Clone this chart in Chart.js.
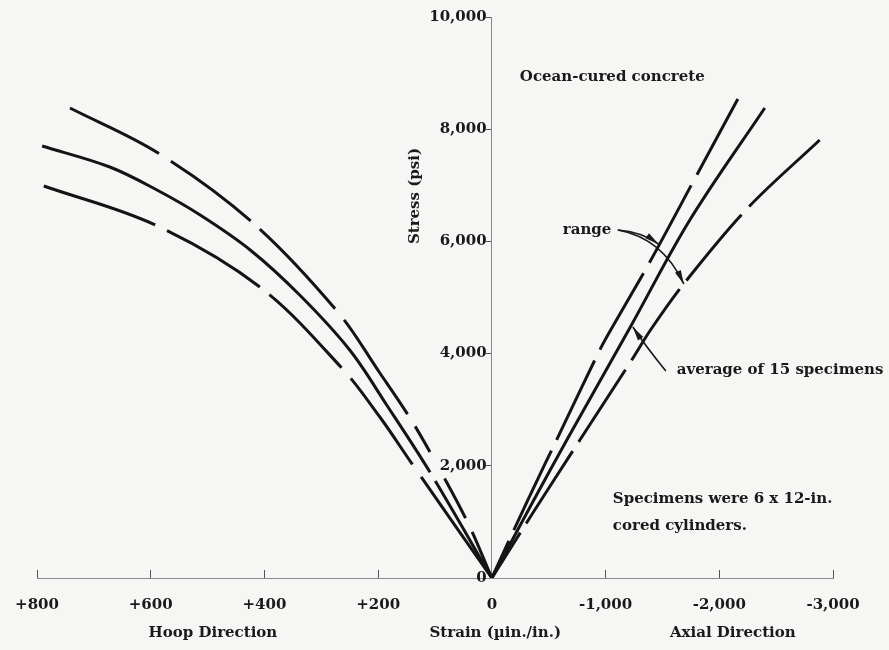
<!DOCTYPE html>
<html><head><meta charset="utf-8">
<script src="https://cdn.jsdelivr.net/npm/chart.js@4.4.1/dist/chart.umd.min.js"></script>
<style>html,body{margin:0;padding:0;background:#f6f6f4;}#wrap{width:889px;height:650px;}</style>
</head><body><div id="wrap"><canvas id="c" width="889" height="650"></canvas></div>
<script>
// ---- tick labels (x axis: hoop side in units of 200, axial side in units of 1000) ----
const xTickLabels = ['+800', '+600', '+400', '+200', '0', '-1,000', '-2,000', '-3,000'];
const hoopStep = 200;    // microstrain per tick on hoop side
const axialStep = 1000;  // microstrain per tick on axial side

// ---- Hoop direction curves (strain µin./in., stress psi) ----
const hoopUpperStrain = [742, 587, 422, 271, 197, 144, 104, 42, 0];
const hoopUpperStress = [8378, 7576, 6346, 4742, 3654, 2852, 2157, 980, 0];
const hoopAvgStrain = [791, 672, 589, 513, 425, 338, 250, 185, 109, 0];
const hoopAvgStress = [7700, 7326, 6916, 6470, 5847, 5044, 4064, 3084, 1889, 0];
const hoopLowerStrain = [788, 592, 408, 264, 197, 139, 0];
const hoopLowerStress = [6987, 6292, 5187, 3743, 2870, 2014, 0];

// ---- Axial direction curves ----
const axialUpperStrain = [2163, 1802, 1389, 1055, 949, 624, 316, 0];
const axialUpperStress = [8538, 7184, 5633, 4456, 4064, 2692, 1390, 0];
const axialAvgStrain = [2400, 1741, 1213, 659, 369, 0];
const axialAvgStress = [8378, 6381, 4456, 2460, 1390, 0];
const axialLowerStrain = [2883, 2250, 1714, 1407, 1213, 774, 360, 0];
const axialLowerStress = [7807, 6595, 5312, 4456, 3832, 2460, 1159, 0];

// map strains to a shared position axis
const hoopPts = (s, p) => s.map((v, i) => ({x: -v / hoopStep, y: p[i]}));
const axialPts = (s, p) => s.map((v, i) => ({x: v / axialStep, y: p[i]}));

const ink = '#141414';
const baseDs = {showLine: true, pointRadius: 0, borderColor: ink, borderWidth: 3, tension: 0.35, fill: false, borderCapStyle: 'butt'};

const datasets = [
  Object.assign({}, baseDs, {label: 'hoop upper', data: hoopPts(hoopUpperStrain, hoopUpperStress), borderDash: [100, 14, 100, 12, 110, 14, 114, 14, 30, 30, 45, 15, 200, 0]}),
  Object.assign({}, baseDs, {label: 'hoop average', data: hoopPts(hoopAvgStrain, hoopAvgStress), borderDash: [522, 10, 300, 0]}),
  Object.assign({}, baseDs, {label: 'hoop lower', data: hoopPts(hoopLowerStrain, hoopLowerStress), borderDash: [118, 13, 109, 12, 103, 14, 106, 15, 200, 0]}),
  Object.assign({}, baseDs, {label: 'axial upper', data: axialPts(axialUpperStrain, axialUpperStress), borderDash: [86, 12, 88, 12, 88, 12, 88, 12, 88, 12]}),
  Object.assign({}, baseDs, {label: 'axial average', data: axialPts(axialAvgStrain, axialAvgStress)}),
  Object.assign({}, baseDs, {label: 'axial lower', data: axialPts(axialLowerStrain, axialLowerStress), borderDash: [97, 11, 86, 11, 86, 11, 86, 11, 86, 11, 200, 0]})
];

// annotation texts, anchored in (position, stress) units
const notes = [
  {text: 'Ocean-cured concrete', x: 0.246, y: 8930},
  {text: 'range', x: 0.624, y: 6203},
  {text: 'average of 15 specimens', x: 1.626, y: 3708},
  {text: 'Specimens were 6 x 12-in.', x: 1.064, y: 1408},
  {text: 'cored cylinders.', x: 1.064, y: 927}
];
// arrows: start, control, end (arrowhead at end)
const arrows = [
  [[1.108, 6203], [1.319, 6170], [1.465, 5954]],
  [[1.108, 6203], [1.50, 6060], [1.688, 5241]],
  [[1.530, 3690], [1.345, 4153], [1.240, 4474]]
];
const axisTitles = [
  {text: 'Hoop Direction', x: -2.453},
  {text: 'Strain (\u00b5in./in.)', x: 0.03},
  {text: 'Axial Direction', x: 2.119}
];
const yTitle = {text: 'Stress (psi)', x: -0.677, y: 6809};

const FONT = '"DejaVu Serif", "Liberation Serif", serif';
const FSIZE = 15;

const bgPlugin = {
  id: 'bg',
  beforeDraw(chart) {
    const c = chart.ctx;
    c.save(); c.fillStyle = '#f6f6f4'; c.fillRect(0, 0, chart.width, chart.height); c.restore();
  }
};

const notePlugin = {
  id: 'notes',
  afterDatasetsDraw(chart) {
    const c = chart.ctx, xs = chart.scales.x, ys = chart.scales.y;
    const px = v => xs.getPixelForValue(v), py = v => ys.getPixelForValue(v);
    c.save();
    c.fillStyle = '#1a1a1a';
    c.font = 'bold ' + FSIZE + 'px ' + FONT;
    c.textBaseline = 'middle';
    c.textAlign = 'left';
    notes.forEach(n => c.fillText(n.text, px(n.x), py(n.y)));
    // arrows
    c.strokeStyle = '#1a1a1a';
    c.lineWidth = 1.6;
    arrows.forEach(a => {
      const [s, m, e] = a.map(p => [px(p[0]), py(p[1])]);
      c.beginPath(); c.moveTo(s[0], s[1]); c.quadraticCurveTo(m[0], m[1], e[0], e[1]); c.stroke();
      const ang = Math.atan2(e[1] - m[1], e[0] - m[0]);
      const L = 14, W = 3.2;
      c.beginPath();
      c.moveTo(e[0], e[1]);
      c.lineTo(e[0] - L * Math.cos(ang) + W * Math.sin(ang), e[1] - L * Math.sin(ang) - W * Math.cos(ang));
      c.lineTo(e[0] - L * Math.cos(ang) - W * Math.sin(ang), e[1] - L * Math.sin(ang) + W * Math.cos(ang));
      c.closePath(); c.fill();
    });
    // axis titles
    c.textAlign = 'center';
    const ty = chart.chartArea.bottom + 55;
    axisTitles.forEach(t => c.fillText(t.text, px(t.x), ty));
    // y title rotated
    c.translate(px(yTitle.x), py(yTitle.y));
    c.rotate(-Math.PI / 2);
    c.fillText(yTitle.text, 0, 0);
    c.restore();
  }
};

new Chart(document.getElementById('c'), {
  type: 'scatter',
  data: {datasets},
  options: {
    responsive: false,
    animation: false,
    devicePixelRatio: 1,
    layout: {padding: {left: 37, right: 56, top: 17, bottom: 0}},
    plugins: {legend: {display: false}, tooltip: {enabled: false}},
    scales: {
      x: {
        type: 'linear', min: -4, max: 3,
        afterFit(s) { s.height = 72; s.paddingLeft = 0; s.paddingRight = 0; },
        border: {display: true, color: '#8a8a8a', width: 1},
        grid: {drawOnChartArea: false, drawTicks: true, tickLength: -8, color: '#555', lineWidth: 1},
        ticks: {
          stepSize: 1, padding: 26, color: '#1a1a1a', maxRotation: 0, autoSkip: false,
          font: {family: FONT, size: FSIZE, weight: 'bold'},
          callback: (v) => xTickLabels[Math.round(v) + 4]
        }
      },
      y: {
        type: 'linear', min: 0, max: 10000, position: {x: 0},
        border: {display: true, color: '#8a8a8a', width: 1},
        grid: {drawOnChartArea: false, drawTicks: true, tickLength: 5, color: '#555', lineWidth: 1},
        ticks: {
          stepSize: 2000, padding: 4, color: '#1a1a1a',
          font: {family: FONT, size: FSIZE, weight: 'bold'},
          callback: (v) => v.toLocaleString('en-US') + ' '
        }
      }
    }
  },
  plugins: [bgPlugin, notePlugin]
});
</script></body></html>
